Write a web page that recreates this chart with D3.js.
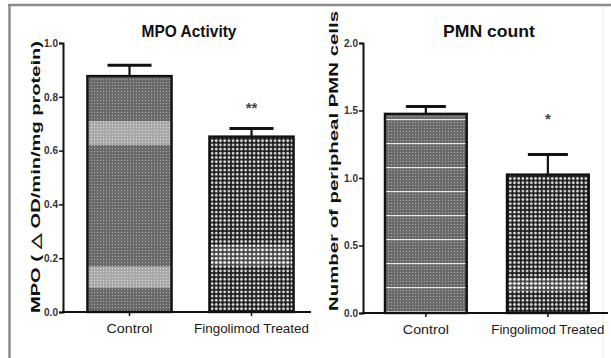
<html>
<head>
<script src="https://d3js.org/d3.v7.min.js"></script>
<style>
  body { margin: 0; background: #fff; }
  text { font-family: "Liberation Sans", Arial, sans-serif; }
</style>
</head>
<body>
<svg id="chart" width="611" height="358"></svg>
<script>
// data
const groups = ['Control', 'Fingolimod Treated']
const mpoMean = [0.877, 0.652]
const mpoErr = [0.040, 0.030]
const pmnMean = [1.475, 1.025]
const pmnErr = [0.055, 0.150]
const mpoTicks = [0.0, 0.2, 0.4, 0.6, 0.8, 1.0]
const pmnTicks = [0.0, 0.5, 1.0, 1.5, 2.0]
const mpoStars = ['', '**']
const pmnStars = ['', '*']
// lighter bands that show in the hatching (value ranges)
const mpoBands = [[[0.09, 0.17], [0.62, 0.71]], [[0.17, 0.25]]]
const pmnBands = [[], [[0.16, 0.26]]]

const svg = d3.select('svg#chart')

// patterns
const defs = svg.append('defs')
const grey = defs.append('pattern').attr('id', 'grey')
  .attr('patternUnits', 'userSpaceOnUse').attr('width', 3).attr('height', 3)
grey.append('rect').attr('width', 3).attr('height', 3).attr('fill', '#6a6a6a')
grey.append('rect').attr('x', 1).attr('y', 1).attr('width', 1).attr('height', 1).attr('fill', '#a8a8a8')

const greyLight = defs.append('pattern').attr('id', 'greyLight')
  .attr('patternUnits', 'userSpaceOnUse').attr('width', 3).attr('height', 3)
greyLight.append('rect').attr('width', 3).attr('height', 3).attr('fill', '#a9a9a9')
greyLight.append('rect').attr('x', 1).attr('y', 1).attr('width', 1).attr('height', 1).attr('fill', '#dcdcdc')

const dots = defs.append('pattern').attr('id', 'dots')
  .attr('patternUnits', 'userSpaceOnUse').attr('width', 4.2).attr('height', 4.2)
dots.append('rect').attr('width', 4.2).attr('height', 4.2).attr('fill', '#1e1e1e')
dots.append('circle').attr('cx', 2.1).attr('cy', 2.1).attr('r', 1.4).attr('fill', '#d8d8d8')

const dotsLight = defs.append('pattern').attr('id', 'dotsLight')
  .attr('patternUnits', 'userSpaceOnUse').attr('width', 4.2).attr('height', 4.2)
dotsLight.append('rect').attr('width', 4.2).attr('height', 4.2).attr('fill', '#444')
dotsLight.append('circle').attr('cx', 2.1).attr('cy', 2.1).attr('r', 1.5).attr('fill', '#f4f4f4')

const stripes = defs.append('pattern').attr('id', 'stripes')
  .attr('patternUnits', 'userSpaceOnUse').attr('width', 3).attr('height', 24).attr('y', 1)
stripes.append('rect').attr('width', 3).attr('height', 24).attr('fill', '#6a6a6a')
d3.range(1, 22, 3).forEach(v => {
  stripes.append('rect').attr('x', 1).attr('y', v).attr('width', 1).attr('height', 1).attr('fill', '#a8a8a8')
})
stripes.append('rect').attr('y', 22).attr('width', 3).attr('height', 1.2).attr('fill', '#e8e8e8')

// frame
svg.append('line').attr('x1', 8).attr('x2', 611).attr('y1', 5).attr('y2', 5)
  .attr('stroke', '#8c8c8c').attr('stroke-width', 2.5)
svg.append('line').attr('x1', 9.5).attr('x2', 9.5).attr('y1', 5).attr('y2', 358)
  .attr('stroke', '#8c8c8c').attr('stroke-width', 2.5)
svg.append('line').attr('x1', 603).attr('x2', 603).attr('y1', 6).attr('y2', 358)
  .attr('stroke', '#eeeeee').attr('stroke-width', 1.5)

function panel(opt) {
  const g = svg.append('g')
  const y = d3.scaleLinear().domain(opt.domain).range([opt.y0, opt.y1])
  const x = d3.scaleBand().domain(groups).range(opt.xRange)
    .paddingInner(opt.pi).paddingOuter(opt.po)

  // bars
  const bars = g.selectAll('g.bar').data(groups).join('g').attr('class', 'bar')
  bars.append('rect')
    .attr('x', d => x(d))
    .attr('width', x.bandwidth())
    .attr('y', (d, i) => y(opt.mean[i]))
    .attr('height', (d, i) => y(0) - y(opt.mean[i]))
    .attr('fill', (d, i) => `url(#${opt.fills[i]})`)
  bars.each(function(d, i) {
    d3.select(this).selectAll('rect.band').data(opt.bands[i]).join('rect')
      .attr('class', 'band')
      .attr('x', x(d) + 1)
      .attr('width', x.bandwidth() - 2)
      .attr('y', b => y(b[1]))
      .attr('height', b => y(b[0]) - y(b[1]))
      .attr('fill', `url(#${opt.light[i]})`)
  })
  bars.append('rect')
    .attr('x', d => x(d))
    .attr('width', x.bandwidth())
    .attr('y', (d, i) => y(opt.mean[i]))
    .attr('height', (d, i) => y(0) - y(opt.mean[i]))
    .attr('fill', 'none').attr('stroke', '#111').attr('stroke-width', 2.4)

  // error bars
  bars.append('line')
    .attr('x1', d => x(d) + x.bandwidth() / 2).attr('x2', d => x(d) + x.bandwidth() / 2)
    .attr('y1', (d, i) => y(opt.mean[i])).attr('y2', (d, i) => y(opt.mean[i] + opt.err[i]))
    .attr('stroke', '#111').attr('stroke-width', 2.2)
  bars.append('line')
    .attr('x1', d => x(d) + x.bandwidth() / 2 - opt.cap).attr('x2', d => x(d) + x.bandwidth() / 2 + opt.cap)
    .attr('y1', (d, i) => y(opt.mean[i] + opt.err[i])).attr('y2', (d, i) => y(opt.mean[i] + opt.err[i]))
    .attr('stroke', '#111').attr('stroke-width', 3)
  bars.append('text')
    .attr('x', d => x(d) + x.bandwidth() / 2)
    .attr('y', (d, i) => y(opt.mean[i] + opt.err[i]) - opt.starGap)
    .attr('text-anchor', 'middle')
    .attr('font-size', 15).attr('font-weight', 'bold').attr('fill', '#444')
    .text((d, i) => opt.stars[i])

  // y axis
  const yAxis = g.append('g').attr('transform', `translate(${opt.xRange[0]},0)`)
    .call(d3.axisLeft(y).tickValues(opt.ticks).tickFormat(d3.format('.1f')).tickSize(4).tickPadding(1))
  yAxis.select('.domain').attr('stroke', '#111').attr('stroke-width', 2)
  yAxis.selectAll('.tick line').attr('stroke', '#111').attr('stroke-width', 1.5)
  yAxis.selectAll('.tick text').attr('font-size', 11).attr('font-weight', 'bold')
    .attr('fill', '#333').attr('textLength', 14).attr('lengthAdjust', 'spacingAndGlyphs')
    .attr('dy', '0.3em')

  // x axis
  const xAxis = g.append('g').attr('transform', `translate(0,${opt.y0})`)
    .call(d3.axisBottom(x).tickSize(4).tickPadding(8))
  xAxis.select('.domain').remove()
  xAxis.selectAll('.tick line').attr('stroke', '#111').attr('stroke-width', 1.5)
  xAxis.selectAll('.tick text').attr('font-size', 13).attr('fill', '#1a1a1a')
    .attr('textLength', (d, i) => opt.xLabelLen[i]).attr('lengthAdjust', 'spacingAndGlyphs')
  g.append('line').attr('x1', opt.xRange[0] - 1).attr('x2', opt.xEnd)
    .attr('y1', opt.y0).attr('y2', opt.y0).attr('stroke', '#111').attr('stroke-width', 2)

  // titles
  g.append('text').attr('x', opt.titleX).attr('y', 37).attr('text-anchor', 'middle')
    .attr('font-size', 17).attr('font-weight', 'bold').attr('fill', '#111')
    .attr('textLength', opt.titleLen).attr('lengthAdjust', 'spacingAndGlyphs')
    .text(opt.title)
  g.append('text')
    .attr('transform', `translate(${opt.labelX},${opt.labelY}) rotate(-90)`)
    .attr('text-anchor', 'middle')
    .attr('font-size', 13).attr('font-weight', 'bold').attr('fill', '#111')
    .attr('textLength', opt.labelLen).attr('lengthAdjust', 'spacingAndGlyphs')
    .text(opt.label)
}

panel({
  domain: [0, 1], y0: 312, y1: 43, xRange: [63, 318], xEnd: 311, pi: 0.31, po: 0.2,
  mean: mpoMean, err: mpoErr, ticks: mpoTicks, stars: mpoStars, bands: mpoBands,
  fills: ['grey', 'dots'], light: ['greyLight', 'dotsLight'], cap: 22, starGap: 16,
  title: 'MPO Activity', titleX: 189, titleLen: 95, xLabelLen: [46, 115],
  label: 'MPO ( \u25B3 OD/min/mg protein)', labelX: 40, labelY: 177, labelLen: 272
})

panel({
  domain: [0, 2], y0: 313, y1: 43, xRange: [363, 610.7], xEnd: 608, pi: 0.33, po: 0.18,
  mean: pmnMean, err: pmnErr, ticks: pmnTicks, stars: pmnStars, bands: pmnBands,
  fills: ['stripes', 'dots'], light: ['greyLight', 'dotsLight'], cap: 20, starGap: 30,
  title: 'PMN count', titleX: 489, titleLen: 92, xLabelLen: [46, 113],
  label: 'Number of peripheal PMN cells', labelX: 338, labelY: 161, labelLen: 300
})
</script>
</body>
</html>
